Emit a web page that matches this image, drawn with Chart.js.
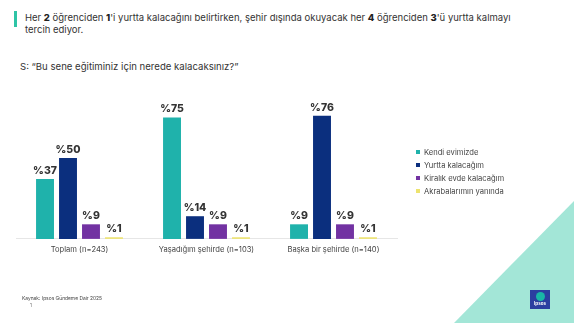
<!DOCTYPE html>
<html lang="tr">
<head>
<meta charset="utf-8">
<script src="https://cdn.jsdelivr.net/npm/chart.js@4/dist/chart.umd.min.js"></script>
<style>
  html, body { margin: 0; padding: 0; background: #fff; }
  body { width: 574px; height: 323px; position: relative; overflow: hidden; font-family: Inter, "Noto Sans", sans-serif; color: #333; }
  #wrap { position: absolute; left: 0; top: 0; width: 574px; height: 323px; }
  .accent { position: absolute; left: 14px; top: 11px; width: 3px; height: 16px; background: #2ec4a6; }
  .title { position: absolute; left: 25px; top: 12px; width: 500px; font-size: 9.5px; line-height: 12px; color: #333; }
  .title b { font-weight: 800; color: #222; }
  .question { position: absolute; left: 20px; top: 61px; font-size: 9.6px; color: #333; }
  .source { position: absolute; left: 22px; top: 295px; font-size: 4.9px; color: #444; }
  .page { position: absolute; left: 30px; top: 303px; font-size: 4.5px; color: #666; }
  .tri { position: absolute; left: 0; top: 0; width: 574px; height: 323px; }
  .logo { position: absolute; left: 530px; top: 290px; width: 20px; height: 19px; background: #2b3fa0; overflow: hidden; }
  .logo .bub { position: absolute; left: 6px; top: 2px; width: 9px; height: 9px; border-radius: 50%; background: #19b6a6; }
  .logo .txt { position: absolute; left: 0; top: 11px; width: 20px; text-align: center; font-size: 4.5px; color: #fff; font-weight: 700; }
  #legend { position: absolute; left: 416px; top: 147px; font-size: 7.6px; color: #444; }
  #legend .item { height: 13px; line-height: 11px; white-space: nowrap; }
  #legend .sw { display: inline-block; width: 4px; height: 4px; margin-right: 4px; vertical-align: 1px; }
</style>
</head>
<body>
<svg class="tri" viewBox="0 0 574 323"><polygon points="454,323 574,201 574,323" fill="#a3e6d7"/></svg>
<div class="accent"></div>
<div class="title">Her <b>2</b> öğrenciden <b>1</b>'i yurtta kalacağını belirtirken, şehir dışında okuyacak her <b>4</b> öğrenciden <b>3</b>'ü yurtta kalmayı tercih ediyor.</div>
<div class="question">S: “Bu sene eğitiminiz için nerede kalacaksınız?”</div>
<div id="wrap"><canvas id="c" width="574" height="323"></canvas></div>
<div id="legend"></div>
<div class="source">Kaynak: Ipsos Gündeme Dair 2025</div>
<div class="page">1</div>
<div class="logo"><div class="bub"></div><div class="txt">Ipsos</div></div>
<script>
// Survey groups and answer shares (%)
const categories = ['Toplam (n=243)', 'Yaşadığım şehirde (n=103)', 'Başka bir şehirde (n=140)'];
const seriesNames = ['Kendi evimizde', 'Yurtta kalacağım', 'Kiralık evde kalacağım', 'Akrabalarımın yanında'];
const kendiEvimizde = [37, 75, 9];
const yurttaKalacagim = [50, 14, 76];
const kiralikEvde = [9, 9, 9];
const akrabalarimin = [1, 1, 1];
const seriesColors = ['#1fb2ab', '#0b2f7e', '#7232a2', '#ede36f'];

const seriesValues = [kendiEvimizde, yurttaKalacagim, kiralikEvde, akrabalarimin];

// Percent labels above each bar
const valueLabels = {
  id: 'valueLabels',
  afterDatasetsDraw(chart) {
    const ctx = chart.ctx;
    ctx.save();
    ctx.font = '800 10.5px Inter, "Noto Sans", sans-serif';
    ctx.fillStyle = '#333';
    ctx.textAlign = 'center';
    ctx.textBaseline = 'bottom';
    chart.data.datasets.forEach((ds, i) => {
      chart.getDatasetMeta(i).data.forEach((bar, j) => {
        ctx.fillText('%' + ds.data[j], bar.x, bar.y - 3);
      });
    });
    ctx.restore();
  }
};

const chart = new Chart(document.getElementById('c'), {
  type: 'bar',
  data: {
    labels: categories,
    datasets: seriesNames.map((name, i) => ({
      label: name,
      data: seriesValues[i],
      backgroundColor: seriesColors[i],
      borderWidth: 0,
      categoryPercentage: 0.724,
      barPercentage: 0.78
    }))
  },
  options: {
    responsive: false,
    animation: false,
    events: [],
    layout: { padding: { left: 16, right: 177, top: 77, bottom: 63 } },
    plugins: { legend: { display: false }, tooltip: { enabled: false } },
    scales: {
      y: { display: false, min: 0, max: 100 },
      x: {
        grid: { display: false, drawTicks: false },
        border: { display: true, color: '#e6e6e6', width: 1 },
        ticks: { color: '#444', font: { family: 'Inter, "Noto Sans", sans-serif', size: 7.6 }, padding: 6 }
      }
    }
  },
  plugins: [valueLabels]
});

// Legend list built from the chart's datasets
const legend = document.getElementById('legend');
chart.data.datasets.forEach(ds => {
  const row = document.createElement('div');
  row.className = 'item';
  const sw = document.createElement('span');
  sw.className = 'sw';
  sw.style.background = ds.backgroundColor;
  row.appendChild(sw);
  row.appendChild(document.createTextNode(ds.label));
  legend.appendChild(row);
});
</script>
</body>
</html>
